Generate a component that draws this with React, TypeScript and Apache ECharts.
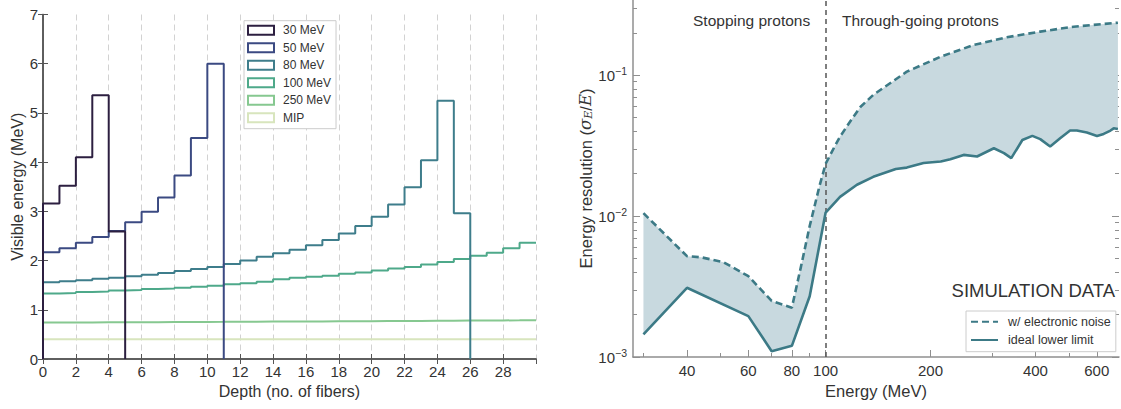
import React, { useEffect, useRef } from 'react';
import * as echarts from 'echarts';

// ---------- Left panel: visible energy per fiber (step histograms) ----------
const histNames = ['30 MeV', '50 MeV', '80 MeV', '100 MeV', '250 MeV', 'MIP'];
const histColors = ['#2c1f40', '#3b4a82', '#3e7d8b', '#4ea98a', '#86c890', '#d8e5bd'];
const depthMax = 30;

const mev30 = [3.16, 3.52, 4.10, 5.36, 2.59];
const mev50 = [2.17, 2.25, 2.36, 2.48, 2.60, 2.78, 2.99, 3.28, 3.73, 4.49, 6.00];
const mev80 = [1.56, 1.58, 1.60, 1.63, 1.65, 1.68, 1.71, 1.75, 1.79, 1.83, 1.87, 1.93, 2.00,
  2.08, 2.15, 2.22, 2.31, 2.42, 2.55, 2.70, 2.89, 3.14, 3.49, 4.04, 5.25, 2.96];
const mev100 = [1.33, 1.34, 1.36, 1.37, 1.39, 1.40, 1.42, 1.43, 1.45, 1.47, 1.49, 1.52, 1.54,
  1.57, 1.62, 1.65, 1.67, 1.69, 1.73, 1.76, 1.80, 1.84, 1.87, 1.92, 1.97, 2.03, 2.10, 2.16, 2.25, 2.36];
const mev250 = [0.740, 0.742, 0.743, 0.745, 0.746, 0.748, 0.749, 0.751, 0.752, 0.754, 0.755,
  0.757, 0.758, 0.760, 0.761, 0.763, 0.764, 0.766, 0.767, 0.769, 0.770, 0.772, 0.774, 0.776,
  0.778, 0.780, 0.782, 0.784, 0.786, 0.789];
const mip = [0.40, 0.40, 0.40, 0.40, 0.40, 0.40, 0.40, 0.40, 0.40, 0.40, 0.40, 0.40, 0.40, 0.40,
  0.40, 0.40, 0.40, 0.40, 0.40, 0.40, 0.40, 0.40, 0.40, 0.40, 0.40, 0.40, 0.40, 0.40, 0.40, 0.40];
const histValues = [mev30, mev50, mev80, mev100, mev250, mip];

// ---------- Right panel: energy resolution ----------
const noiseEnergy = [30, 40, 44, 51, 60, 70, 80, 85, 90, 96, 100, 106, 110, 118, 126, 137, 171,
  214, 266, 331, 413, 515, 690];
const noiseRes = [0.0105, 0.0052, 0.0051, 0.0047, 0.00375, 0.0025, 0.00224, 0.0044, 0.0085,
  0.0163, 0.0235, 0.031, 0.0367, 0.0475, 0.0598, 0.0725, 0.106, 0.1355, 0.164, 0.186, 0.204,
  0.221, 0.236];
const idealEnergy = [30, 40, 60, 70, 80, 90, 100, 110, 123, 137, 159, 171, 191, 214, 228, 249,
  272, 304, 325, 341, 367, 392, 413, 441, 471, 503, 526, 562, 601, 628, 657, 671, 690];
const idealRes = [0.00145, 0.0031, 0.00195, 0.0011, 0.0012, 0.0027, 0.0106, 0.0137, 0.0167,
  0.019, 0.0216, 0.0221, 0.0238, 0.0244, 0.0253, 0.0272, 0.0265, 0.0303, 0.028, 0.0258, 0.0347,
  0.0371, 0.0352, 0.0312, 0.0357, 0.0405, 0.0405, 0.0392, 0.0371, 0.0383, 0.0405, 0.042, 0.0415];

const energyMajorTicks = [40, 60, 80, 100, 200, 400, 600];
const energyMinorTicks = [30, 50, 70, 90, 300, 500];
const resMajorTicks = [0.001, 0.01, 0.1];
const resMinorTicks = [0.002, 0.003, 0.004, 0.005, 0.006, 0.007, 0.008, 0.009,
  0.02, 0.03, 0.04, 0.05, 0.06, 0.07, 0.08, 0.09, 0.2, 0.3];
const energyRange = [28, 695];
const resRange = [0.001, 0.342];
const regionBoundary = 100;

const FONT = '"Liberation Sans", Arial, sans-serif';
const TXT = '#333333';
const LINE = '#3c7a86';
const FILL = '#c8d9df';
const lg = (v: number) => Math.log10(v);

function stepData(vals: number[]) {
  const pts: number[][] = [[0, 0]];
  vals.forEach((v, i) => pts.push([i, v]));
  // histogram ends inside the axis: drop to zero; otherwise just close the last bin
  pts.push([vals.length, vals.length < depthMax ? 0 : vals[vals.length - 1]]);
  return pts;
}

function buildOption(): any {
  const leftSeries = histNames
    .map((name, i) => ({
      name,
      type: 'line',
      xAxisIndex: 0,
      yAxisIndex: 0,
      step: 'end',
      symbol: 'none',
      data: stepData(histValues[i]),
      lineStyle: { color: histColors[i], width: 2 },
      itemStyle: { color: histColors[i] },
      z: 10 - i,
    }))
    .reverse();

  const upperPts = noiseEnergy.map((e, i) => [lg(e), lg(noiseRes[i])]);
  const lowerPts = idealEnergy.map((e, i) => [lg(e), lg(idealRes[i])]);

  const rightSeries: any[] = [
    {
      type: 'custom',
      xAxisIndex: 2,
      yAxisIndex: 2,
      silent: true,
      data: [[lg(100), -2]],
      renderItem: (_p: any, api: any) => {
        const pts: number[][] = [];
        upperPts.forEach((p) => pts.push(api.coord(p)));
        for (let i = lowerPts.length - 1; i >= 0; i--) pts.push(api.coord(lowerPts[i]));
        return { type: 'polygon', shape: { points: pts }, style: { fill: FILL } };
      },
      z: 1,
    },
    {
      name: 'w/ electronic noise',
      type: 'line',
      xAxisIndex: 2,
      yAxisIndex: 2,
      symbol: 'none',
      data: upperPts,
      lineStyle: { color: LINE, width: 2.6, type: [7, 4] },
      itemStyle: { color: LINE },
      z: 5,
      markLine: {
        silent: true,
        symbol: ['none', 'none'],
        label: { show: false },
        lineStyle: { color: '#555', width: 1.5, type: [5, 4] },
        data: [{ xAxis: lg(regionBoundary) }],
      },
    },
    {
      name: 'ideal lower limit',
      type: 'line',
      xAxisIndex: 2,
      yAxisIndex: 2,
      symbol: 'none',
      data: lowerPts,
      lineStyle: { color: LINE, width: 2.6 },
      itemStyle: { color: LINE },
      z: 5,
    },
  ];

  const leftAxisColor = '#555';
  const rightAxisColor = '#8f8f8f';
  const labelStyle = { fontSize: 15, color: TXT, fontFamily: FONT };
  const hiddenSymbol = { color: 'rgba(0,0,0,0)', borderWidth: 0, opacity: 0 };

  return {
    animation: false,
    textStyle: { fontFamily: FONT },
    grid: [
      { left: 43, top: 14.5, width: 493, height: 344.5 },
      { left: 633, top: 0, width: 486, height: 357 },
    ],
    xAxis: [
      {
        gridIndex: 0, type: 'value', min: 0, max: depthMax, interval: 2, position: 'bottom',
        axisLine: { lineStyle: { color: leftAxisColor, width: 1.5 } },
        axisTick: { inside: true, length: 5, lineStyle: { color: leftAxisColor } },
        axisLabel: { ...labelStyle, margin: 5, showMaxLabel: false },
        splitLine: { show: true, lineStyle: { color: '#d2d2d2', width: 1, type: [6, 4] } },
        name: 'Depth (no. of fibers)', nameLocation: 'middle', nameGap: 23,
        nameTextStyle: { fontSize: 16, color: TXT },
      },
      {
        gridIndex: 0, type: 'value', min: 0, max: depthMax, interval: 2, position: 'top',
        axisLine: { lineStyle: { color: leftAxisColor, width: 1.5 } },
        axisTick: { inside: true, length: 5, lineStyle: { color: leftAxisColor } },
        axisLabel: { show: false }, splitLine: { show: false },
      },
      {
        gridIndex: 1, type: 'value', min: lg(energyRange[0]), max: lg(energyRange[1]), position: 'bottom',
        axisLine: { lineStyle: { color: rightAxisColor, width: 1.5 } },
        axisTick: { inside: true, length: 7, customValues: energyMajorTicks.map(lg), lineStyle: { color: rightAxisColor } },
        axisLabel: {
          ...labelStyle, margin: 6, customValues: energyMajorTicks.map(lg),
          formatter: (v: number) => String(Math.round(Math.pow(10, v))),
        },
        splitLine: { show: false },
        name: 'Energy (MeV)', nameLocation: 'middle', nameGap: 25,
        nameTextStyle: { fontSize: 16.5, color: TXT },
      },
      {
        gridIndex: 1, type: 'value', min: lg(energyRange[0]), max: lg(energyRange[1]), position: 'bottom',
        axisLine: { show: false },
        axisTick: { inside: true, length: 4, customValues: energyMinorTicks.map(lg), lineStyle: { color: rightAxisColor } },
        axisLabel: { show: false }, splitLine: { show: false },
      },
    ],
    yAxis: [
      {
        gridIndex: 0, type: 'value', min: 0, max: 7, interval: 1, position: 'left',
        axisLine: { show: true, lineStyle: { color: leftAxisColor, width: 1.5 } },
        axisTick: { show: true, inside: true, length: 5, lineStyle: { color: leftAxisColor } },
        axisLabel: { ...labelStyle, margin: 5 },
        splitLine: { show: false },
        name: 'Visible energy (MeV)', nameLocation: 'middle', nameGap: 18,
        nameTextStyle: { fontSize: 16, color: TXT },
      },
      {
        gridIndex: 0, type: 'value', min: 0, max: 7, interval: 1, position: 'right',
        axisLine: { show: true, lineStyle: { color: leftAxisColor, width: 1.5 } },
        axisTick: { show: true, inside: true, length: 5, lineStyle: { color: leftAxisColor } },
        axisLabel: { show: false }, splitLine: { show: false },
      },
      {
        gridIndex: 1, type: 'value', min: lg(resRange[0]), max: lg(resRange[1]), position: 'left',
        axisLine: { show: true, lineStyle: { color: rightAxisColor, width: 1.5 } },
        axisTick: { show: true, inside: true, length: 7, customValues: resMajorTicks.map(lg), lineStyle: { color: rightAxisColor } },
        axisLabel: {
          ...labelStyle, margin: 6, customValues: resMajorTicks.map(lg),
          formatter: (v: number) => `{b|10}{s|\u2212${Math.round(-v)}}`,
          rich: {
            b: { fontSize: 15, color: TXT, fontFamily: FONT },
            s: { fontSize: 10.5, color: TXT, fontFamily: FONT, padding: [0, 0, 8, 0] },
          },
        },
        splitLine: { show: false },
        name: 'Energy resolution ({i|σ}{sub|E}{n|/}{i|E}{n|)}', nameLocation: 'middle', nameGap: 38,
        nameTextStyle: {
          fontSize: 16.5, color: TXT,
          rich: {
            i: { fontSize: 16.5, color: TXT, fontStyle: 'italic', fontFamily: '"DejaVu Serif", serif' },
            sub: { fontSize: 11, color: TXT, fontStyle: 'italic', fontFamily: '"DejaVu Serif", serif', padding: [6, 0, 0, 0] },
            n: { fontSize: 16.5, color: TXT },
          },
        },
      },
      {
        gridIndex: 1, type: 'value', min: lg(resRange[0]), max: lg(resRange[1]), position: 'left',
        axisLine: { show: false },
        axisTick: { show: true, inside: true, length: 4, customValues: resMinorTicks.map(lg), lineStyle: { color: rightAxisColor } },
        axisLabel: { show: false }, splitLine: { show: false },
      },
      {
        gridIndex: 1, type: 'value', min: lg(resRange[0]), max: lg(resRange[1]), position: 'right',
        axisLine: { show: false },
        axisTick: { show: true, inside: true, length: 7, customValues: resMajorTicks.map(lg), lineStyle: { color: rightAxisColor } },
        axisLabel: { show: false }, splitLine: { show: false },
      },
      {
        gridIndex: 1, type: 'value', min: lg(resRange[0]), max: lg(resRange[1]), position: 'right',
        axisLine: { show: false },
        axisTick: { show: true, inside: true, length: 4, customValues: resMinorTicks.map(lg), lineStyle: { color: rightAxisColor } },
        axisLabel: { show: false }, splitLine: { show: false },
      },
    ],
    legend: [
      {
        orient: 'vertical', left: 244, top: 20.7,
        itemWidth: 26, itemHeight: 9, itemGap: 3.5,
        padding: [2.5, 5, 4, 3],
        backgroundColor: '#fff', borderColor: '#cccccc', borderWidth: 1,
        textStyle: { fontSize: 12, color: TXT, lineHeight: 14, padding: [0, 0, 0, 4] },
        data: histNames.map((n, i) => ({
          name: n, icon: 'rect',
          itemStyle: { color: 'rgba(255,255,255,0)', borderColor: histColors[i], borderWidth: 2 },
        })),
      },
      {
        orient: 'vertical', left: 966, top: 311,
        itemWidth: 27, itemHeight: 10, itemGap: 4.3,
        padding: [3.7, 5, 4.7, 4],
        backgroundColor: '#fff', borderColor: '#cccccc', borderWidth: 1,
        textStyle: { fontSize: 12.5, color: TXT, lineHeight: 14, padding: [0, 0, 0, 5] },
        data: [
          { name: 'w/ electronic noise', itemStyle: hiddenSymbol },
          { name: 'ideal lower limit', itemStyle: hiddenSymbol },
        ],
      },
    ],
    graphic: [
      { type: 'text', x: 693, y: 20, style: { text: 'Stopping protons', fontSize: 15.5, fontFamily: FONT, fill: TXT, verticalAlign: 'middle' } },
      { type: 'text', x: 842, y: 20, style: { text: 'Through-going protons', fontSize: 15.5, fontFamily: FONT, fill: TXT, verticalAlign: 'middle' } },
      { type: 'text', x: 1115, y: 290, style: { text: 'SIMULATION DATA', fontSize: 18.5, fontFamily: FONT, fill: TXT, align: 'right', verticalAlign: 'middle' } },
    ],
    series: [...leftSeries, ...rightSeries],
  };
}

export default function App() {
  const ref = useRef<HTMLDivElement>(null);
  useEffect(() => {
    if (!ref.current) return;
    const chart = echarts.init(ref.current, undefined, { renderer: 'svg' });
    chart.setOption(buildOption());
    return () => chart.dispose();
  }, []);
  return (
    <div
      ref={ref}
      style={{ position: 'fixed', left: 0, top: 0, width: 1121, height: 409, background: '#fff' }}
    />
  );
}
